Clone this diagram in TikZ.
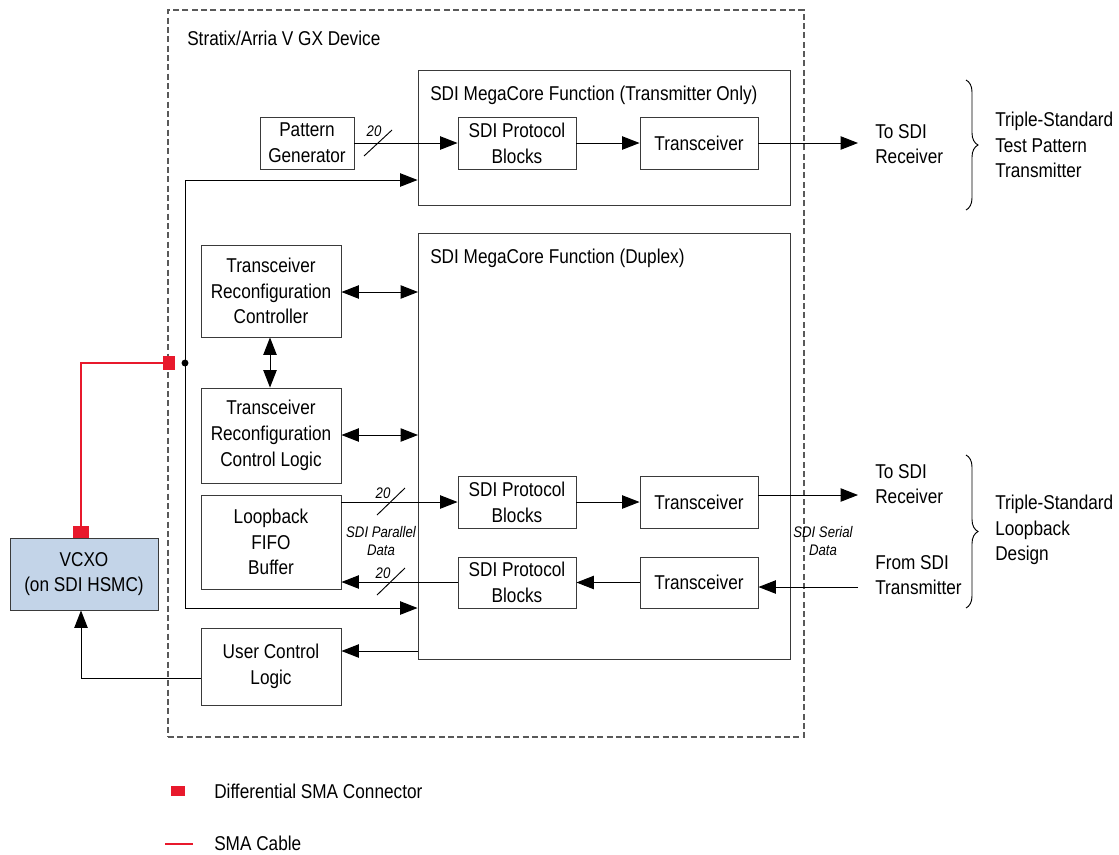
\documentclass[tikz,border=0pt]{standalone}
\usepackage{fontspec}
\setmainfont{Liberation Sans}[FakeStretch=0.86]
\usetikzlibrary{arrows.meta,decorations.pathreplacing}
\definecolor{smared}{HTML}{E8192C}
\definecolor{vcxoblue}{HTML}{C3D4E8}
\definecolor{boxgray}{HTML}{3A3A3A}
\newcommand{\mainsz}{\fontsize{15}{19.3}\selectfont}
\newcommand{\smallsz}{\fontsize{11.5}{13.5}\selectfont}
\begin{document}
\begin{tikzpicture}[x=0.75pt,y=-0.75pt,
  box/.style={draw=boxgray, line width=0.7pt, align=center, font=\mainsz, inner sep=0pt},
  arr/.style={-{Triangle[length=13pt,width=10pt]}, line width=0.7pt},
  darr/.style={{Triangle[length=13pt,width=10pt]}-{Triangle[length=13pt,width=10pt]}, line width=0.7pt},
  lbl/.style={font=\mainsz, align=left, anchor=west, inner sep=0pt},
  small/.style={font=\smallsz\itshape, inner sep=0pt, align=center},
  slash/.style={line width=0.7pt},
  redsq/.style={fill=smared, draw=none, inner sep=0pt},
  cable/.style={draw=smared, line width=0.8pt},
  brc/.style={decorate, decoration={brace, amplitude=9pt}, line width=0.7pt},
]
\useasboundingbox (0,0) rectangle (1119,854);

% device border
\node[draw=gray!70!black, line width=0.8pt, dash pattern=on 4.5pt off 2.5pt,
      minimum width=477pt, minimum height=545.25pt, inner sep=0pt] (dev) at (486,373.5) {};
\node[lbl] (devlbl) at (187,38) {Stratix/Arria V GX Device};

% megacore boxes
\node[box, minimum width=279pt, minimum height=101.25pt] (txmc) at (604,137.5) {};
\node[lbl] (txmclbl) at (430,95) {SDI MegaCore Function (Transmitter Only)};
\node[box, minimum width=279pt, minimum height=319.5pt] (dup) at (604,446) {};
\node[lbl] (duplbl) at (430,258) {SDI MegaCore Function (Duplex)};

% inner blocks
\node[box, minimum width=70.5pt, minimum height=39pt] (pg) at (307,143) {Pattern\\Generator};
\node[box, minimum width=88.5pt, minimum height=39pt] (tp1) at (517,143) {SDI Protocol\\Blocks};
\node[box, minimum width=88.5pt, minimum height=39pt] (tx1) at (699,143) {Transceiver};

\node[box, minimum width=105pt, minimum height=69pt] (trc) at (271,291) {Transceiver\\Reconfiguration\\Controller};
\node[box, minimum width=105pt, minimum height=71.25pt] (trcl) at (271,435.5) {Transceiver\\Reconfiguration\\Control Logic};
\node[box, minimum width=105pt, minimum height=70.5pt] (fifo) at (271,542) {Loopback\\FIFO\\Buffer};
\node[box, minimum width=105pt, minimum height=57.75pt] (ucl) at (271,666.5) {User Control\\Logic};

\node[box, minimum width=88.5pt, minimum height=39pt] (tp2) at (517,502) {SDI Protocol\\Blocks};
\node[box, minimum width=88.5pt, minimum height=39pt] (tx2) at (699,502) {Transceiver};
\node[box, minimum width=88.5pt, minimum height=38.25pt] (tp3) at (517,582.5) {SDI Protocol\\Blocks};
\node[box, minimum width=88.5pt, minimum height=38.25pt] (tx3) at (699,582.5) {Transceiver};

\node[box, fill=vcxoblue, minimum width=111pt, minimum height=54pt] (vcxo) at (84,574) {VCXO\\(on SDI HSMC)};

% TX path
\draw[arr] (pg.east) -- (tp1.west);
\draw[arr] (tp1.east) -- (tx1.west);
\coordinate (rx1) at (858,143);
\draw[arr] (tx1.east) -- (rx1);
\draw[slash] (364,156) -- (392,130);
\node[small] (n20a) at (374,131) {20};

% bus
\coordinate (b1) at (185,180);
\coordinate (b2) at (185,608);
\coordinate (bdot) at (185,363);
\draw[arr] (b2) -- (b1) -- (txmc.west |- b1);
\draw[arr] (b2) -- (dup.west |- b2);
\fill (bdot) circle (2.6pt);

% reconfiguration
\coordinate (r1) at (418,292);
\coordinate (r2) at (418,435);
\draw[darr] (trc.east |- r1) -- (r1);
\draw[darr] (trcl.east |- r2) -- (r2);
\coordinate (rv) at (270,0);
\draw[darr] (trc.south -| rv) -- (trcl.north -| rv);

% loopback
\coordinate (lp1) at (458,502);
\coordinate (lp2) at (458,582);
\draw[arr] (fifo.east |- lp1) -- (tp2.west |- lp1);
\draw[arr] (tp3.west |- lp2) -- (fifo.east |- lp2);
\draw[slash] (377,515) -- (405,488);
\node[small] (n20b) at (383,493) {20};
\draw[slash] (377,595) -- (405,568);
\node[small] (n20c) at (383,573) {20};
\node[small] (pd) at (381,541) {SDI Parallel\\Data};

\draw[arr] (tp2.east) -- (tx2.west);
\draw[arr] (tx3.west) -- (tp3.east);
\coordinate (rx2) at (858,495);
\coordinate (tx3in) at (858,587);
\draw[arr] (tx2.east |- rx2) -- (rx2);
\draw[arr] (tx3in) -- (tx3.east |- tx3in);
\node[small] (sd) at (823,541) {SDI Serial\\Data};

% user control
\coordinate (u1) at (418,651);
\draw[arr] (u1) -- (ucl.east |- u1);
\coordinate (c2) at (81,678);
\draw[arr] (ucl.west |- c2) -- (c2) -- (c2 |- vcxo.south);

% SMA cable
\coordinate (sma1c) at (169,363);
\coordinate (c1) at (81,363);
\coordinate (sma2c) at (81,532);
\draw[cable] (sma1c) -- (c1) -- (sma2c);
\node[redsq, minimum width=9pt, minimum height=11pt] (sma1) at (sma1c) {};
\node[redsq, minimum width=12pt, minimum height=9pt] (sma2) at (sma2c) {};

% right-hand labels
\node[lbl] (torx1) at (875,144) {To SDI\\Receiver};
\node[lbl] (torx2) at (875,484) {To SDI\\Receiver};
\node[lbl] (fromtx) at (875,575) {From SDI\\Transmitter};
\coordinate (br1a) at (966,80);
\coordinate (br1b) at (966,210);
\coordinate (br2a) at (966,455);
\coordinate (br2b) at (966,608);
\draw[brc] (br1a) -- (br1b);
\draw[brc] (br2a) -- (br2b);
\node[lbl] (tstp) at (995,145) {Triple-Standard\\Test Pattern\\Transmitter};
\node[lbl] (tslb) at (995,530) {Triple-Standard\\Loopback\\Design};

% legend
\node[redsq, minimum width=10.5pt, minimum height=7.5pt] (legsq) at (178,791) {};
\node[lbl] (legt1) at (214,791) {Differential SMA Connector};
\coordinate (l1) at (165,844);
\coordinate (l2) at (193,844);
\draw[cable] (l1) -- (l2);
\node[lbl] (legt2) at (214,843) {SMA Cable};
\end{tikzpicture}
\end{document}
